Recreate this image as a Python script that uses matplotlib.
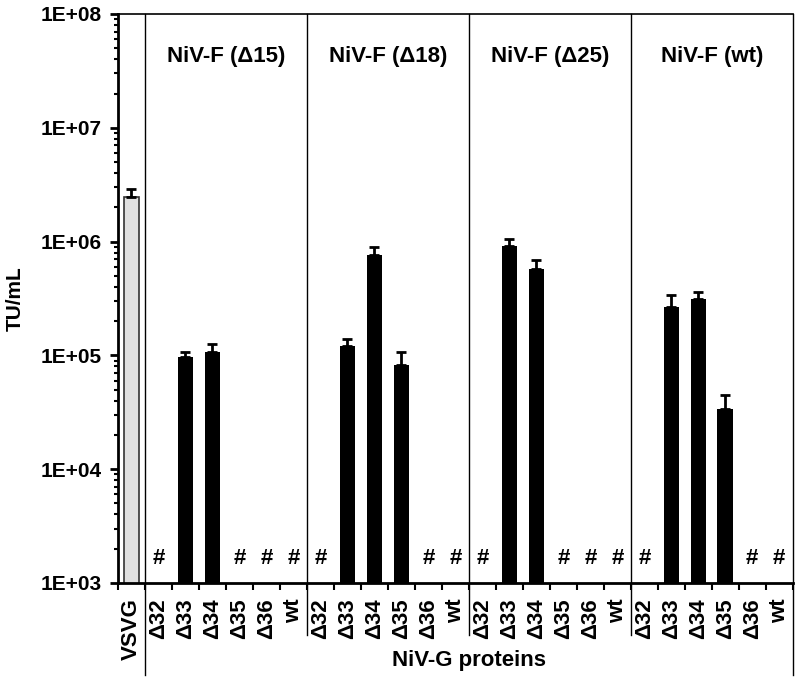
import numpy as np
import matplotlib.pyplot as plt
from matplotlib.ticker import FixedLocator, LogLocator, NullFormatter
import matplotlib.transforms as mtransforms

plt.rcParams['font.family'] = ['Liberation Sans', 'DejaVu Sans']
plt.rcParams['font.weight'] = 'bold'

# NiV-F groups and NiV-G proteins
f_groups = ['NiV-F (Δ15)', 'NiV-F (Δ18)', 'NiV-F (Δ25)', 'NiV-F (wt)']
g_proteins = ['Δ32', 'Δ33', 'Δ34', 'Δ35', 'Δ36', 'wt']

# TU/mL, None = not detected (#)
vsvg_value = 2.44e6
vsvg_err = 0.43e6
d15_values = [None, 9.7e4, 1.07e5, None, None, None]
d15_err = [None, 1.0e4, 1.8e4, None, None, None]
d18_values = [None, 1.22e5, 7.6e5, 8.2e4, None, None]
d18_err = [None, 1.8e4, 1.4e5, 2.4e4, None, None]
d25_values = [None, 9.1e5, 5.7e5, None, None, None]
d25_err = [None, 1.5e5, 1.15e5, None, None, None]
wt_values = [None, 2.67e5, 3.1e5, 3.35e4, None, None]
wt_err = [None, 7.0e4, 5.0e4, 1.15e4, None, None]

group_values = [d15_values, d18_values, d25_values, wt_values]
group_errs = [d15_err, d18_err, d25_err, wt_err]

fig = plt.figure(figsize=(8, 6.82), dpi=100)
ax = fig.add_axes([0.1475, 0.1452, 0.8435, 0.8343])
ax.set_yscale('log')

# VSVG control bar
ax.bar(0, vsvg_value, width=0.56, color='#e0e0e0', edgecolor='#333333', linewidth=1.2, zorder=2)
ax.errorbar(0, vsvg_value, yerr=[[0], [vsvg_err]], fmt='none', ecolor='black',
            elinewidth=2, capsize=3.3, capthick=2, zorder=3)

labels = ['VSVG']
for gi, (vals, errs) in enumerate(zip(group_values, group_errs)):
    for pi, (v, e) in enumerate(zip(vals, errs)):
        x = 1 + gi * 6 + pi
        labels.append(g_proteins[pi])
        if v is None:
            ax.text(x, 1.63e3, '#', ha='center', va='center', fontsize=16, fontweight='bold')
        else:
            ax.bar(x, v, width=0.58, color='black', zorder=2)
            ax.errorbar(x, v, yerr=[[0], [e]], fmt='none', ecolor='black',
                        elinewidth=2, capsize=3.3, capthick=2, zorder=3)
    ax.text(1 + gi * 6 + 2.5, 10 ** 7.63, f_groups[gi], ha='center', va='center',
            fontsize=16, fontweight='bold')

ax.set_xlim(-0.5, 24.5)
ax.set_ylim(1e3, 1e8)

# y axis
ax.yaxis.set_major_locator(FixedLocator([1e3, 1e4, 1e5, 1e6, 1e7, 1e8]))
ax.set_yticklabels(['1E+03', '1E+04', '1E+05', '1E+06', '1E+07', '1E+08'])
ax.yaxis.set_minor_locator(LogLocator(base=10, subs=np.arange(2, 10)))
ax.yaxis.set_minor_formatter(NullFormatter())
ax.tick_params(axis='y', which='major', length=6, width=2, labelsize=15, pad=6)
ax.tick_params(axis='y', which='minor', length=3, width=1.5)
ax.set_ylabel('TU/mL', fontsize=15, fontweight='bold')
ax.yaxis.set_label_coords(-0.138, 0.5)

# x axis: labels at centres, ticks at boundaries
ax.set_xticks(np.arange(25))
ax.set_xticklabels(labels, rotation=90, fontsize=16, fontweight='bold')
ax.set_xticks(np.arange(-0.5, 25, 1), minor=True)
ax.tick_params(axis='x', which='major', length=0, pad=11)
ax.tick_params(axis='x', which='minor', length=5, width=1.5)

for side in ['left', 'bottom']:
    ax.spines[side].set_linewidth(2)
ax.spines['top'].set_linewidth(1.2)
ax.spines['right'].set_visible(False)

# group separators extending below the axis
trans = mtransforms.blended_transform_factory(ax.transData, ax.transAxes)
for xs, ybot in [(0.5, -0.162), (6.5, -0.0914), (12.5, -0.0914), (18.5, -0.0914), (24.5, -0.162)]:
    ax.plot([xs, xs], [ybot, 1], color='black', linewidth=1, transform=trans, clip_on=False, zorder=1)

ax.text(12.5, -0.137, 'NiV-G proteins', transform=trans, ha='center', va='center',
        fontsize=16, fontweight='bold')

fig.savefig('out.png', dpi=100)
